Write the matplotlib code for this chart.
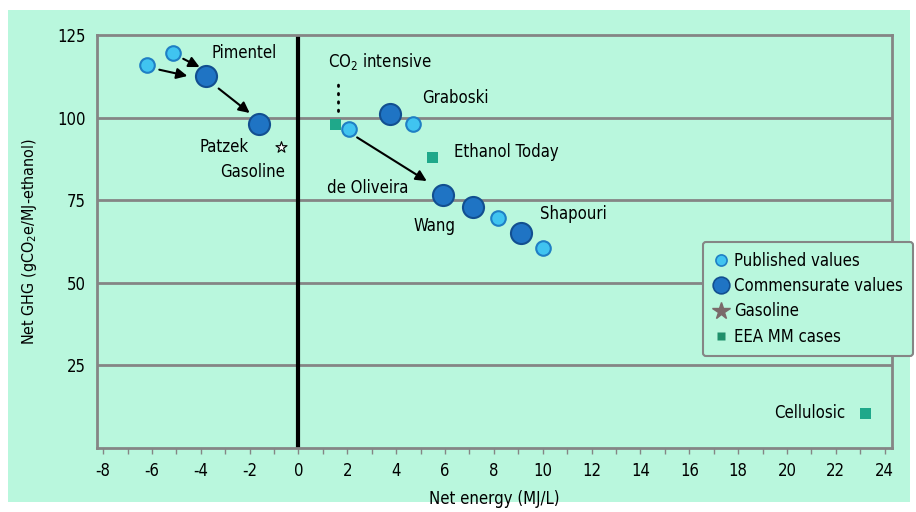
import matplotlib
matplotlib.use('Agg')
import matplotlib.pyplot as plt
from matplotlib.patches import Rectangle
from matplotlib.lines import Line2D

plt.rcParams['font.family'] = ['Liberation Sans Narrow', 'DejaVu Sans']
plt.rcParams['font.stretch'] = 'condensed'
plt.rcParams['axes.unicode_minus'] = False

# data
pub_x = [-6.2, -5.15, 2.05, 4.7, 8.15, 10.0]
pub_y = [116, 119.5, 96.5, 98, 69.5, 60.5]
com_x = [-3.8, -1.6, 3.75, 5.9, 7.15, 9.1]
com_y = [112.5, 98, 101, 76.5, 73, 65]
gas_x = [-0.7]
gas_y = [91]
eea_x = [1.5, 5.5, 23.2]
eea_y = [98, 88, 10.5]
xticks = list(range(-8, 25, 2))
yticks = [25, 50, 75, 100, 125]

bg = '#b9f7dd'
grey = '#858585'

fig = plt.figure(figsize=(9.16, 5.12), dpi=100, facecolor='white')
fig.patches.append(Rectangle((8 / 916, 1 - 502 / 512), 902 / 916, 492 / 512,
                             transform=fig.transFigure, facecolor=bg,
                             edgecolor='none', zorder=-10))
ax = fig.add_axes([97 / 916, 1 - 448 / 512, 795 / 916, 413 / 512])
ax.set_facecolor(bg)
ax.set_xlim(-8.25, 24.3)
ax.set_ylim(0, 125)

for y in yticks[:-1]:
    ax.axhline(y, color=grey, lw=2, zorder=1)
ax.axvline(0, color='black', lw=3, zorder=2)
for s in ax.spines.values():
    s.set_color(grey)
    s.set_linewidth(2)

ax.set_xticks(xticks)
ax.set_xticks(range(-8, 25), minor=True)
ax.set_yticks(yticks)
ax.tick_params(axis='x', which='both', colors=grey, length=4, width=1,
               labelcolor='black', labelsize=12, pad=6)
ax.tick_params(axis='y', length=0, labelsize=12, pad=8)

ax.set_xlabel('Net energy (MJ/L)', fontsize=12, labelpad=7)
ax.set_ylabel('Net GHG (gCO$_2$e/MJ-ethanol)', fontsize=11.5, labelpad=13)

ax.scatter(pub_x, pub_y, s=110, c='#40c4f0', edgecolors='#1f7fc4', linewidths=1.5, zorder=4)
ax.scatter(com_x, com_y, s=230, c='#1f74c4', edgecolors='#124f90', linewidths=1.5, zorder=4)
ax.scatter(gas_x, gas_y, s=70, marker='*', c='white', edgecolors='black', linewidths=0.8, zorder=4)
ax.scatter(eea_x, eea_y, s=60, marker='s', c='#1fa88a', edgecolors='none', zorder=5)

# arrows and dotted trail
arrows = [((-5.7, 114.5), (-4.55, 112.6)),
          ((-4.72, 117.8), (-4.05, 115.3)),
          ((-3.27, 108.8), (-2.0, 101.4)),
          ((2.4, 94.0), (5.25, 80.8))]
for tail, head in arrows:
    ax.annotate('', xy=head, xytext=tail,
                arrowprops=dict(arrowstyle='-|>', color='black', lw=1.5,
                                mutation_scale=16, shrinkA=0, shrinkB=0), zorder=6)
ax.plot([1.6, 1.6], [102, 112], color='black', lw=2, ls=(0, (0.5, 2.5)),
        dash_capstyle='round', zorder=3)

fs = 12
ax.text(-3.55, 119.7, 'Pimentel', fontsize=fs, va='center')
ax.text(-4.05, 91.2, 'Patzek', fontsize=fs, va='center')
ax.text(-3.2, 83.6, 'Gasoline', fontsize=fs, va='center')
ax.text(1.2, 117, 'CO$_2$ intensive', fontsize=fs, va='center')
ax.text(5.05, 105.8, 'Graboski', fontsize=fs, va='center')
ax.text(6.35, 89.7, 'Ethanol Today', fontsize=fs, va='center')
ax.text(4.5, 78.8, 'de Oliveira', fontsize=fs, va='center', ha='right')
ax.text(4.7, 67.3, 'Wang', fontsize=fs, va='center')
ax.text(9.9, 70.9, 'Shapouri', fontsize=fs, va='center')
ax.text(22.4, 10.6, 'Cellulosic', fontsize=fs, va='center', ha='right')

handles = [
    Line2D([], [], ls='none', marker='o', ms=8, mfc='#40c4f0', mec='#1f7fc4', mew=1.2),
    Line2D([], [], ls='none', marker='o', ms=12, mfc='#1f74c4', mec='#124f90', mew=1.2),
    Line2D([], [], ls='none', marker='*', ms=13, mfc='#7a6a6a', mec='#7a6a6a'),
    Line2D([], [], ls='none', marker='s', ms=6, mfc='#1f8f6a', mec='none'),
]
labels = ['Published values', 'Commensurate values', 'Gasoline', 'EEA MM cases']
leg = ax.legend(handles, labels, loc='upper left', bbox_to_anchor=(0.762, 0.5),
                fontsize=12, frameon=True, fancybox=True, handlelength=1,
                handletextpad=0.3, labelspacing=0.45, borderpad=0.6,
                borderaxespad=0)
leg.get_frame().set_facecolor(bg)
leg.get_frame().set_edgecolor(grey)
leg.get_frame().set_linewidth(1.5)
leg.get_frame().set_alpha(1)

fig.savefig('out.png', dpi=100, facecolor='white')
